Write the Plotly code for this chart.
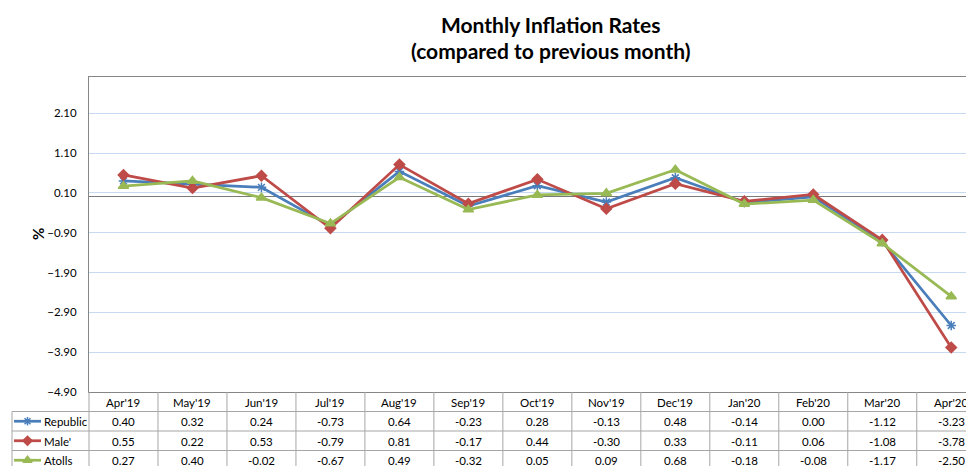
import plotly.graph_objects as go

months = ["Apr'19", "May'19", "Jun'19", "Jul'19", "Aug'19", "Sep'19", "Oct'19",
          "Nov'19", "Dec'19", "Jan'20", "Feb'20", "Mar'20", "Apr'20"]
republic = [0.40, 0.32, 0.24, -0.73, 0.64, -0.23, 0.28, -0.13, 0.48, -0.14, 0.00, -1.12, -3.23]
male = [0.55, 0.22, 0.53, -0.79, 0.81, -0.17, 0.44, -0.30, 0.33, -0.11, 0.06, -1.08, -3.78]
atolls = [0.27, 0.40, -0.02, -0.67, 0.49, -0.32, 0.05, 0.09, 0.68, -0.18, -0.08, -1.17, -2.50]
y_ticks = [2.10, 1.10, 0.10, -0.90, -1.90, -2.90, -3.90, -4.90]

series = [
    ("Republic", republic, '#4a7ebb', 'asterisk-open', 8),
    ("Male'", male, '#be4b48', 'diamond', 8),
    ("Atolls", atolls, '#98b954', 'triangle-up', 9),
]

# the page body has an 8px margin, so the figure is shifted; work in window pixels
OFF = 8
WIN_W, WIN_H = 974, 466
W, H = WIN_W - OFF, WIN_H - OFF
TOP = 77            # window px of plot top
PLOT_LEFT = 89      # window px of plot left
PLOT_BOTTOM = 392   # window px of plot bottom
ROW_H = 19.5
LEGEND_LEFT = 12
X_RANGE = [-0.5, 12.33]
FONT = 'Lato'
GRID = '#a6a6a6'
TXT = dict(family=FONT, size=11.5, color='#000')

PAPER_H = WIN_H - TOP
X_DOM = [(PLOT_LEFT - OFF) / W, 1]


def py(p):
    """window pixel row -> paper y"""
    return (WIN_H - p) / PAPER_H


def cat_px(v):
    """category-axis value -> window pixel x"""
    f = (v - X_RANGE[0]) / (X_RANGE[1] - X_RANGE[0])
    return PLOT_LEFT + f * (WIN_W - PLOT_LEFT)


fig = go.Figure()

for name, vals, color, sym, size in series:
    fig.add_trace(go.Scatter(
        x=months, y=vals, name=name, mode='lines+markers',
        line=dict(color=color, width=2.75),
        marker=dict(symbol=sym, size=size, color=color,
                    line=dict(color=color, width=1.5)),
        showlegend=False, cliponaxis=False
    ))

# data table grid, drawn on an overlay axis measured in window pixels
gx, gy = [], []
table_bottom = WIN_H + 5
for k in range(len(months) + 1):
    xx = cat_px(k - 0.5)
    if xx > WIN_W:
        continue
    gx += [xx, xx, None]
    gy += [PLOT_BOTTOM, table_bottom, None]
gx += [LEGEND_LEFT, LEGEND_LEFT, None]
gy += [PLOT_BOTTOM + ROW_H, table_bottom, None]
for r in range(1, len(series) + 1):
    yy = PLOT_BOTTOM + r * ROW_H
    gx += [LEGEND_LEFT, WIN_W + 5, None]
    gy += [yy, yy, None]
fig.add_trace(go.Scatter(x=gx, y=gy, mode='lines', line=dict(color=GRID, width=1),
                         xaxis='x3', yaxis='y3', showlegend=False, hoverinfo='skip'))

# legend keys of the data table
for i, (name, vals, color, sym, size) in enumerate(series):
    yc = PLOT_BOTTOM + (i + 1.5) * ROW_H
    fig.add_trace(go.Scatter(
        x=[14, 41], y=[yc, yc], mode='lines', line=dict(color=color, width=2.75),
        xaxis='x3', yaxis='y3', showlegend=False, hoverinfo='skip'
    ))
    fig.add_trace(go.Scatter(
        x=[27.5], y=[yc], mode='markers',
        marker=dict(symbol=sym, size=size - 1, color=color, line=dict(color=color, width=1.5)),
        xaxis='x3', yaxis='y3', showlegend=False, hoverinfo='skip'
    ))
    fig.add_annotation(x=42, y=yc + 0.5, xref='x3', yref='y3', text=name, showarrow=False,
                       xanchor='left', yanchor='middle', font=TXT)

annotations = []
# header row and values
for j, m in enumerate(months):
    annotations.append(dict(x=m, xref='x', y=py(PLOT_BOTTOM + ROW_H / 2 + 0.5), yref='paper',
                            yanchor='middle', text=m, showarrow=False, font=TXT))
    for i, (name, vals, color, sym, size) in enumerate(series):
        annotations.append(dict(x=m, xref='x', y=py(PLOT_BOTTOM + (i + 1.5) * ROW_H + 0.5),
                                yref='paper', yanchor='middle', text=f'{vals[j]:.2f}',
                                showarrow=False, font=TXT))

# title
for text, yc in [('<b>Monthly Inflation Rates</b>', 24), ('<b>(compared to previous month)</b>', 50)]:
    annotations.append(dict(x=(550 - OFF) / W, xref='paper', y=py(yc), yref='paper',
                            xanchor='center', yanchor='middle', showarrow=False, text=text,
                            font=dict(family=FONT, size=21, color='#000')))
# y-axis title
annotations.append(dict(x=(38 - OFF) / W, xref='paper', y=py(234), yref='paper', textangle=-90,
                        xanchor='center', yanchor='middle', showarrow=False, text='<b>%</b>',
                        font=dict(family=FONT, size=15, color='#000')))

fig.update_layout(
    width=W, height=H,
    margin=dict(l=0, r=0, t=TOP - OFF, b=0, autoexpand=False),
    plot_bgcolor='rgba(0,0,0,0)', paper_bgcolor='white',
    annotations=fig.layout.annotations + tuple(annotations),
    xaxis=dict(domain=X_DOM, type='category', range=X_RANGE, automargin=False,
               showticklabels=False, showgrid=False, zeroline=False,
               showline=True, linecolor='#868686', mirror=True),
    yaxis=dict(domain=[(WIN_H - PLOT_BOTTOM) / PAPER_H, 1], range=[-4.9, 3.01],
               automargin=False, tickvals=y_ticks, tickformat='.2f', ticks='',
               ticklabelstandoff=9, tickfont=TXT,
               showgrid=True, gridcolor='#c6d9f1', gridwidth=1,
               zeroline=True, zerolinecolor='#7a7a7a', zerolinewidth=1.25,
               showline=True, linecolor='#868686', mirror=False),
    xaxis3=dict(domain=[0, 1], range=[OFF, WIN_W], visible=False, anchor='y3',
                fixedrange=True),
    yaxis3=dict(domain=[0, 1], range=[WIN_H, TOP], visible=False, anchor='x3',
                fixedrange=True),
)

fig.write_html("out.html")
